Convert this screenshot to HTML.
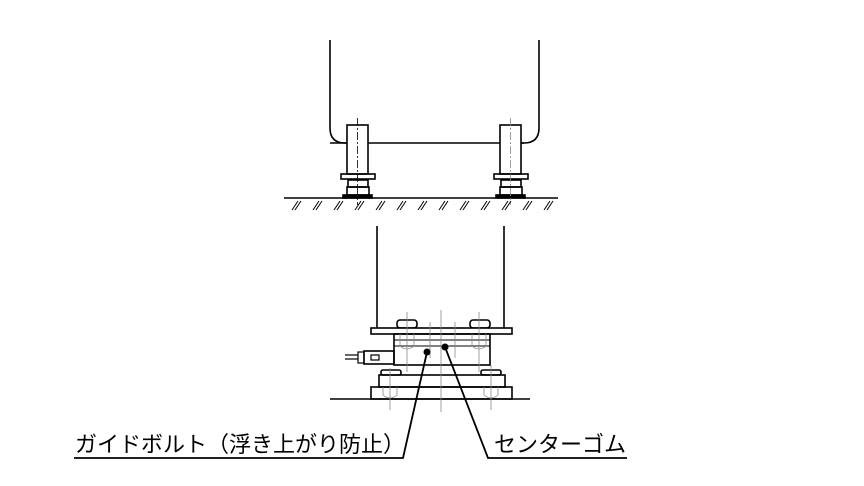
<!DOCTYPE html>
<html><head><meta charset="utf-8"><style>
html,body{margin:0;padding:0;background:#fff;}
svg{display:block}
text{font-family:"Liberation Sans","Noto Sans CJK JP",sans-serif;font-size:22px;fill:#000}
</style></head><body>
<svg width="864" height="486" viewBox="0 0 864 486" xmlns="http://www.w3.org/2000/svg">
<g fill="none" stroke="#000" stroke-width="1.6">
<path d="M330 40 V128 Q330 143 345 143 H524 Q539 143 539 128 V40"/>
<rect x="347" y="125" width="21" height="49" fill="#fff"/>
<line x1="330" y1="143" x2="347" y2="143"/>
<rect x="341" y="174" width="34" height="5"/>
<rect x="348" y="180" width="20" height="7"/>
<rect x="347" y="187" width="22" height="8"/>
<rect x="343" y="195" width="29" height="3" fill="#000"/>
<rect x="500" y="125" width="21" height="49" fill="#fff"/>
<line x1="521" y1="143" x2="524" y2="143"/>
<rect x="494" y="174" width="34" height="5"/>
<rect x="501" y="180" width="20" height="7"/>
<rect x="500" y="187" width="22" height="8"/>
<rect x="496" y="195" width="29" height="3" fill="#000"/>
<line x1="284" y1="198" x2="558" y2="198"/>
</g>
<g stroke="#000" stroke-width="1" opacity="0.8">
<line x1="357.5" y1="118" x2="357.5" y2="205" stroke-dasharray="8 2 2 2"/>
<line x1="510.5" y1="118" x2="510.5" y2="205" stroke-dasharray="8 2 2 2" stroke="#888"/>
</g>
<g stroke="#000" stroke-width="1">
<path d="M298 201 l-6 9 M301 201 l-6 9 M319 201 l-6 9 M322 201 l-6 9 M340 201 l-6 9 M343 201 l-6 9 M361 201 l-6 9 M364 201 l-6 9 M382 201 l-6 9 M385 201 l-6 9 M403 201 l-6 9 M406 201 l-6 9 M424 201 l-6 9 M427 201 l-6 9 M445 201 l-6 9 M448 201 l-6 9 M466 201 l-6 9 M469 201 l-6 9 M487 201 l-6 9 M490 201 l-6 9 M508 201 l-6 9 M511 201 l-6 9 M529 201 l-6 9 M532 201 l-6 9 M550 201 l-6 9 M553 201 l-6 9"/>
</g>
<g fill="none" stroke="#000" stroke-width="1.6">
<line x1="377" y1="226" x2="377" y2="328"/>
<line x1="504" y1="226" x2="504" y2="328"/>
<rect x="397" y="320" width="20" height="8" rx="3"/>
<rect x="470" y="320" width="20" height="8" rx="3"/>
<rect x="371" y="328" width="141" height="6" fill="#fff"/>
<rect x="394" y="334" width="96" height="31"/>
<rect x="394" y="340" width="96" height="6" stroke-width="1"/>
<rect x="381" y="370" width="20" height="5" rx="2"/>
<rect x="481" y="370" width="20" height="5" rx="2"/>
<rect x="379" y="375" width="126" height="12"/>
<rect x="371" y="387" width="141" height="12"/>
<line x1="330" y1="399" x2="530" y2="399"/>
<rect x="364" y="351" width="30" height="13"/>
<rect x="371" y="355" width="8" height="5" stroke-width="1.2"/>
<rect x="358" y="352" width="6" height="11" stroke-width="1.2"/>
<line x1="345" y1="355" x2="358" y2="355" stroke-width="1.2"/>
<line x1="345" y1="359" x2="358" y2="359" stroke-width="1.2"/>
</g>
<g stroke="#888" stroke-width="0.8" fill="none">
<line x1="407" y1="312" x2="407" y2="372"/>
<line x1="479" y1="312" x2="479" y2="372"/>
<line x1="441" y1="310" x2="441" y2="412"/>
<line x1="430" y1="322" x2="430" y2="358"/>
<line x1="455" y1="322" x2="455" y2="358"/>
<line x1="390" y1="368" x2="390" y2="410"/>
<line x1="491" y1="365" x2="491" y2="410"/>
<path d="M400 334 v12 q7 6 14 0 v-12"/>
<path d="M472 334 v12 q7 6 14 0 v-12"/>
<path d="M383 387 v8 q7 6 14 0 v-8"/>
<path d="M484 387 v8 q7 6 14 0 v-8"/>
</g>
<circle cx="427" cy="352" r="3.5" fill="#000"/>
<circle cx="445" cy="347" r="3.5" fill="#000"/>
<g stroke="#000" stroke-width="1.8" fill="none">
<path d="M74 458 H403 L427 352"/>
<path d="M627 458 H488 L445 347"/>
</g>
<text x="75" y="452">ガイドボルト（浮き上がり防止）</text>
<text x="494" y="452">センターゴム</text>
</svg>
</body></html>
